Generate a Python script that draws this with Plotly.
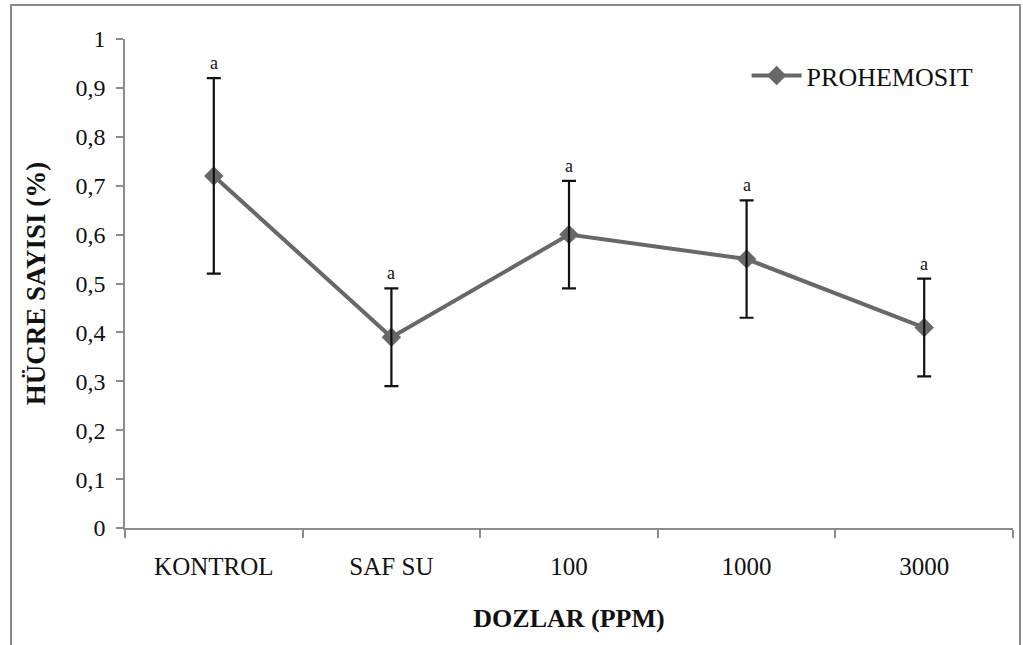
import plotly.graph_objects as go

categories = ["KONTROL", "SAF SU", "100", "1000", "3000"]
values = [0.72, 0.39, 0.60, 0.55, 0.41]
errors = [0.20, 0.10, 0.11, 0.12, 0.10]
letters = ["a", "a", "a", "a", "a"]
y_ticks = [0, 0.1, 0.2, 0.3, 0.4, 0.5, 0.6, 0.7, 0.8, 0.9, 1]
y_tick_text = ["0", "0,1", "0,2", "0,3", "0,4", "0,5", "0,6", "0,7", "0,8", "0,9", "1"]

FONT = "Liberation Serif"
GRAY = "#686868"
AXIS = "#8c8c8c"

fig = go.Figure()
fig.add_trace(go.Scatter(
    x=categories, y=values, mode="lines+markers", name="PROHEMOSIT",
    line=dict(color=GRAY, width=4),
    marker=dict(symbol="diamond", size=15, color=GRAY),
))
fig.add_trace(go.Scatter(
    x=categories, y=values, mode="markers", showlegend=False,
    marker=dict(size=1, color="rgba(0,0,0,0)"),
    error_y=dict(type="data", array=errors, visible=True, color="#111111", thickness=2.2, width=7),
    hoverinfo="skip",
))

for i, (v, e, t) in enumerate(zip(values, errors, letters)):
    fig.add_annotation(x=i, y=v + e, text=t, showarrow=False, yshift=15,
                       font=dict(family=FONT, size=18, color="#111111"))

fig.update_layout(
    width=1023, height=645,
    margin=dict(l=125, r=10, t=39, b=117),
    paper_bgcolor="white", plot_bgcolor="white",
    font=dict(family=FONT, color="#111111"),
    showlegend=True,
    legend=dict(x=0.70, y=0.925, xanchor="left", yanchor="middle",
                font=dict(family=FONT, size=26, color="#111111"),
                bgcolor="rgba(0,0,0,0)", itemwidth=50),
    xaxis=dict(
        type="category", range=[-0.5, 4.5], tickson="boundaries",
        showline=True, linecolor=AXIS, linewidth=1.5,
        ticks="outside", ticklen=8, tickcolor=AXIS, tickwidth=1.5,
        showgrid=False, zeroline=False,
        tickfont=dict(family=FONT, size=25, color="#111111"),
        ticklabelstandoff=15,
        title=dict(text="<b>DOZLAR (PPM)</b>", font=dict(family=FONT, size=26, color="#111111"), standoff=30),
    ),
    yaxis=dict(
        range=[0, 1], tickmode="array", tickvals=y_ticks, ticktext=y_tick_text,
        showline=True, linecolor=AXIS, linewidth=1.5,
        ticks="outside", ticklen=7, tickcolor=AXIS, tickwidth=1.5,
        showgrid=False, zeroline=False,
        tickfont=dict(family=FONT, size=24, color="#111111"),
        ticklabelstandoff=6,
        title=dict(text="<b>HÜCRE SAYISI (%)</b>", font=dict(family=FONT, size=27, color="#111111"), standoff=22),
    ),
    shapes=[dict(type="rect", xref="paper", yref="paper",
                 x0=(11 - 125) / 888, x1=(1020 - 125) / 888,
                 y0=-0.3, y1=(528 - 5) / 489,
                 line=dict(color="#8a8a8a", width=2), fillcolor="rgba(0,0,0,0)", layer="below")],
)

fig.write_html("out.html")
